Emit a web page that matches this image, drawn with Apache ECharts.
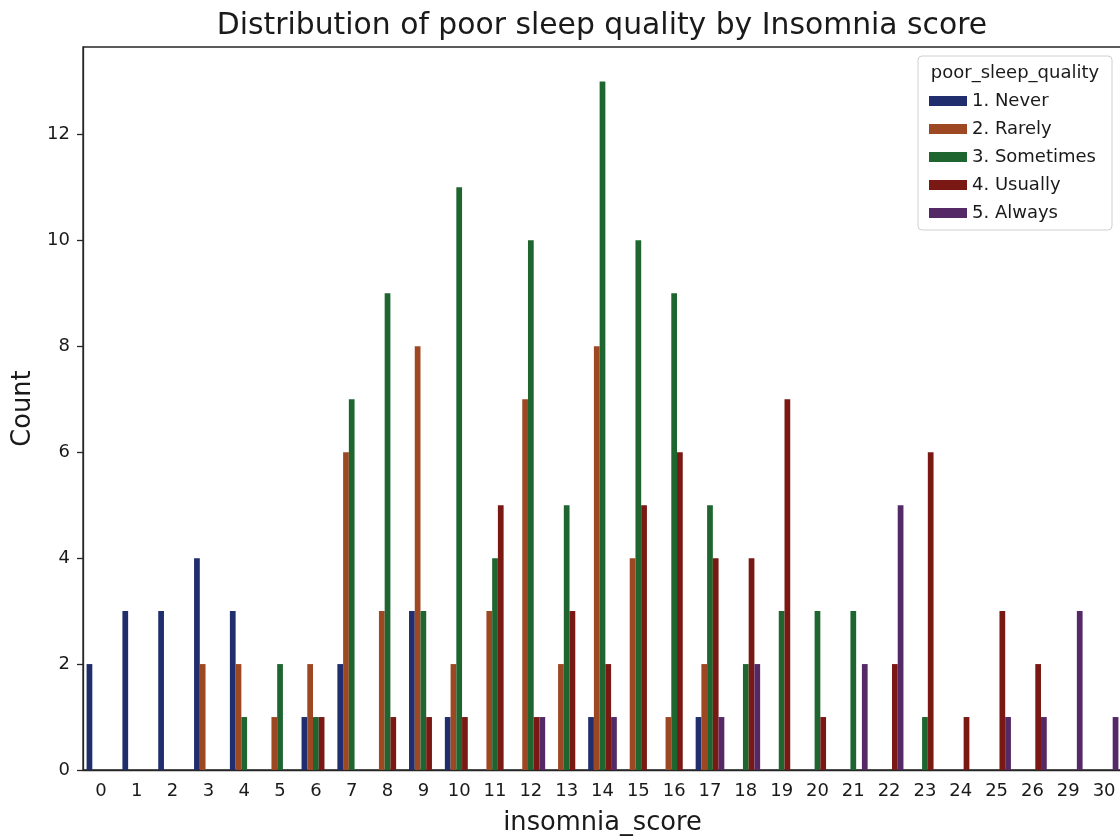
<!DOCTYPE html>
<html>
<head>
<meta charset="utf-8">
<script src="https://cdn.jsdelivr.net/npm/echarts@6/dist/echarts.min.js"></script>
<style>
html,body{margin:0;padding:0;background:#fff;}
#chart{width:1120px;height:836px;}
</style>
</head>
<body>
<div id="chart"></div>
<script>
const categories = ['0','1','2','3','4','5','6','7','8','9','10','11','12','13','14','15','16','17','18','19','20','21','22','23','24','25','26','29','30'];
const seriesNames = ['1. Never','2. Rarely','3. Sometimes','4. Usually','5. Always'];
const never     = [2,3,3,4,3,0,1,2,0,3,1,0,0,0,1,0,0,1,0,0,0,0,0,0,0,0,0,0,0];
const rarely    = [0,0,0,2,2,1,2,6,3,8,2,3,7,2,8,4,1,2,0,0,0,0,0,0,0,0,0,0,0];
const sometimes = [0,0,0,0,1,2,1,7,9,3,11,4,10,5,13,10,9,5,2,3,3,3,0,1,0,0,0,0,0];
const usually   = [0,0,0,0,0,0,1,0,1,1,1,5,1,3,2,5,6,4,4,7,1,0,2,6,1,3,2,0,0];
const always    = [0,0,0,0,0,0,0,0,0,0,0,0,1,0,1,0,0,1,2,0,0,2,5,0,0,1,1,3,1];
const yTicks = [0,2,4,6,8,10,12];
const colors = ['#212e6e','#9e4823','#1f6530','#7a1914','#552866'];

const font = 'DejaVu Sans';
const dataSets = [never, rarely, sometimes, usually, always];
const chart = echarts.init(document.getElementById('chart'), null, {renderer:'canvas'});
chart.setOption({
  animation:false,
  backgroundColor:'#fff',
  textStyle:{fontFamily:font},
  title:{
    text:'Distribution of poor sleep quality by Insomnia score',
    left:602, top:11, textAlign:'center', padding:0,
    textStyle:{fontFamily:font,fontSize:29.8,fontWeight:'normal',color:'#1a1a1a'}
  },
  grid:{left:83, top:47, width:1039, height:723, outerBoundsMode:'none', containLabel:false, show:true, borderColor:'#262626', borderWidth:1.3, backgroundColor:'transparent'},
  legend:{
    orient:'vertical', left:924, top:87, itemWidth:38, itemHeight:10, itemGap:10,
    icon:'rect', data:seriesNames,
    textStyle:{fontFamily:font,fontSize:18,lineHeight:18,color:'#1a1a1a'}
  },
  graphic:[
    {type:'rect', shape:{x:918,y:56,width:194,height:174,r:4}, style:{fill:'rgba(255,255,255,0.8)',stroke:'#d0d0d0',lineWidth:1}, z:1},
    {type:'text', x:1015, y:73, style:{text:'poor_sleep_quality', font:'18px "DejaVu Sans"', fill:'#1a1a1a', textAlign:'center', textVerticalAlign:'middle'}, z:2}
  ],
  xAxis:{
    type:'category', data:categories,
    name:'insomnia_score', nameLocation:'middle', nameGap:40,
    nameTextStyle:{fontFamily:font,fontSize:25.7,color:'#1a1a1a'},
    axisLine:{lineStyle:{color:'#262626',width:1.3}},
    axisTick:{alignWithLabel:true,length:6,lineStyle:{color:'#262626',width:1.3}},
    axisLabel:{fontFamily:font,fontSize:18,color:'#1a1a1a',margin:12,interval:0},
    splitLine:{show:false}
  },
  yAxis:{
    type:'value', min:0, max:13.65, interval:2,
    name:'Count', nameLocation:'middle', nameGap:43,
    nameTextStyle:{fontFamily:font,fontSize:25.7,color:'#1a1a1a'},
    axisLine:{show:true,lineStyle:{color:'#262626',width:1.3}},
    axisTick:{show:true,length:6,customValues:yTicks,lineStyle:{color:'#262626',width:1.3}},
    axisLabel:{fontFamily:font,fontSize:18,color:'#1a1a1a',margin:13,customValues:yTicks},
    splitLine:{show:false}
  },
  series: dataSets.map((d,i)=>({
    name:seriesNames[i], type:'bar', data:d,
    barGap:'0%', barCategoryGap:'20%',
    itemStyle:{color:colors[i], borderWidth:0},
    emphasis:{disabled:true}
  }))
});
</script>
</body>
</html>
